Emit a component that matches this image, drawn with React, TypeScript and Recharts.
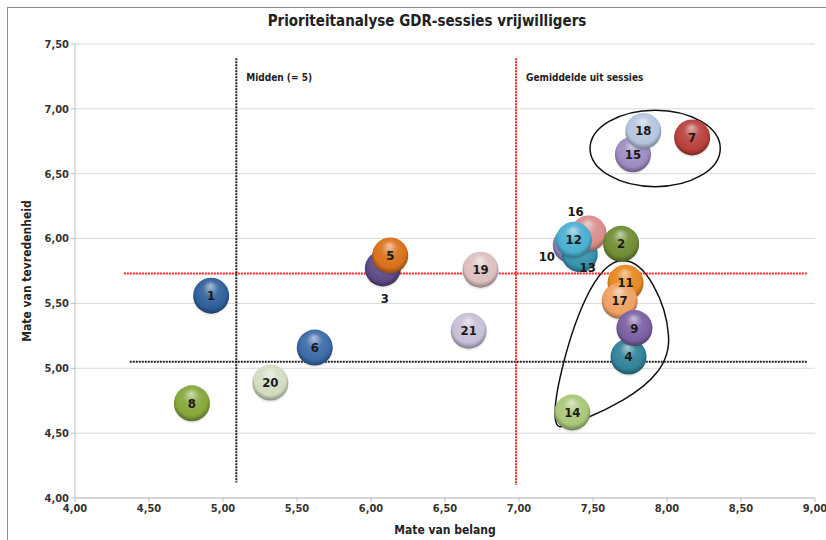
import React from "react";
import { ScatterChart, Scatter, XAxis, YAxis, CartesianGrid, ReferenceLine, ReferenceArea } from "recharts";

// sessies (bubble numbers) with their scores
const sessieIds = [1, 2, 3, 4, 5, 6, 7, 8, 9, 10, 11, 12, 13, 14, 15, 16, 17, 18, 19, 20, 21];
const mateVanBelang = [4.92, 7.69, 6.08, 7.74, 6.13, 5.62, 8.17, 4.79, 7.78, 7.35, 7.72, 7.37, 7.41, 7.36, 7.77, 7.47, 7.68, 7.84, 6.74, 5.32, 6.66];
const mateVanTevredenheid = [5.56, 5.96, 5.77, 5.09, 5.87, 5.16, 6.78, 4.73, 5.31, 5.95, 5.66, 5.99, 5.88, 4.66, 6.65, 6.04, 5.52, 6.83, 5.76, 4.89, 5.29];

const xTicks = [4, 4.5, 5, 5.5, 6, 6.5, 7, 7.5, 8, 8.5, 9];
const yTicks = [4, 4.5, 5, 5.5, 6, 6.5, 7, 7.5];

// reference lines
const middenBelang = 5.09;
const middenTevredenheid = 5.05;
const gemiddeldBelang = 6.98;
const gemiddeldTevredenheid = 5.73;

// stacking order as in the original (later = on top)
const drawOrder = [10, 13, 16, 12, 2, 11, 17, 4, 9, 14, 3, 5, 1, 6, 8, 19, 20, 21, 15, 18, 7];

const bubbleColors: Record<number, string> = {
  1: "#2f5f9c", 2: "#6f8b33", 3: "#5d4a86", 4: "#2f8299", 5: "#d9701a",
  6: "#3a6aa8", 7: "#b8403c", 8: "#86a63a", 9: "#7a5fa3", 10: "#8a82bd",
  11: "#e5871f", 12: "#4aaed0", 13: "#3592ad", 14: "#a8c679", 15: "#9d8cc2",
  16: "#d88c8a", 17: "#eea164", 18: "#b3c5de", 19: "#dcc0c0", 20: "#d3dcc0",
  21: "#c6bfd6",
};

// labels that Excel moved off the bubble
const labelOffsets: Record<number, [number, number]> = {
  3: [2, 30],
  10: [-24, 11],
  13: [8, 13],
  16: [-13, -22],
};

const R = 18;
const FONT = "'DejaVu Sans Condensed', 'DejaVu Sans', sans-serif";

const data = drawOrder.map((id) => {
  const i = sessieIds.indexOf(id);
  return { id, x: mateVanBelang[i], y: mateVanTevredenheid[i] };
});

const mix = (hex: string, target: string, t: number) => {
  const a = parseInt(hex.slice(1), 16);
  const b = parseInt(target.slice(1), 16);
  const ch = (v: number, s: number) => (v >> s) & 255;
  const c = [16, 8, 0].map((s) => Math.round(ch(a, s) + (ch(b, s) - ch(a, s)) * t));
  return "#" + c.map((v) => v.toString(16).padStart(2, "0")).join("");
};

const Bubble = (props: any) => {
  const { cx, cy, payload } = props;
  const base = bubbleColors[payload.id];
  const gid = `bub-${payload.id}`;
  return (
    <g>
      <defs>
        <radialGradient id={gid} cx="50%" cy="45%" r="55%" fx="48%" fy="22%">
          <stop offset="0%" stopColor={mix(base, "#ffffff", 0.6)} />
          <stop offset="40%" stopColor={mix(base, "#ffffff", 0.1)} />
          <stop offset="80%" stopColor={base} />
          <stop offset="100%" stopColor={mix(base, "#000000", 0.35)} />
        </radialGradient>
      </defs>
      <circle cx={cx} cy={cy + 2} r={R} fill="#000" opacity={0.08} />
      <circle cx={cx} cy={cy} r={R} fill={`url(#${gid})`} />
    </g>
  );
};

const BubbleLabel = (props: any) => {
  const { cx, cy, payload } = props;
  const [dx, dy] = labelOffsets[payload.id] || [0, 0];
  return (
    <text x={cx + dx} y={cy + dy} textAnchor="middle" dominantBaseline="central"
      fontFamily={FONT} fontWeight="bold" fontSize={13} fill="#1a1a1a">
      {payload.id}
    </text>
  );
};

const SegLabel = (props: any) => {
  const { viewBox, text } = props;
  return (
    <text x={viewBox.x + 10} y={viewBox.y + 19} fontFamily={FONT} fontWeight="bold" fontSize={10} fill="#222" dominantBaseline="central">
      {text}
    </text>
  );
};

const EllipseShape = (props: any) => {
  const { x, y, width, height } = props;
  return (
    <ellipse cx={x + width / 2} cy={y + height / 2} rx={width / 2} ry={height / 2}
      fill="none" stroke="#111" strokeWidth={1.5} />
  );
};

const LoopShape = (props: any) => {
  const { x, y, width: w, height: h } = props;
  const p = (u: number, v: number) => `${x + u * w},${y + v * h}`;
  const d = `M ${p(0.6, 0)} C ${p(0.8, 0)} ${p(0.98, 0.25)} ${p(1, 0.45)} ` +
    `C ${p(1.02, 0.62)} ${p(0.85, 0.74)} ${p(0.6, 0.84)} ` +
    `C ${p(0.4, 0.92)} ${p(0.15, 0.99)} ${p(0.05, 1)} ` +
    `C ${p(-0.02, 1)} ${p(0, 0.85)} ${p(0.05, 0.7)} ` +
    `C ${p(0.15, 0.4)} ${p(0.35, 0)} ${p(0.6, 0)} Z`;
  return <path d={d} fill="none" stroke="#111" strokeWidth={1.5} />;
};

const fmt = (v: number) => v.toFixed(2).replace(".", ",");

export default function App() {
  return (
    <div style={{ position: "absolute", left: 0, top: 0, width: 826, height: 540, overflow: "hidden", background: "#fff" }}>
      <div style={{ position: "absolute", left: 7, top: 7, width: 840, height: 560, border: "1px solid #8c8c8c" }} />
      <div style={{ position: "absolute", left: 0, width: 854, top: 12, textAlign: "center", fontFamily: FONT, fontWeight: "bold", fontSize: 15, color: "#222" }}>
        Prioriteitanalyse GDR-sessies vrijwilligers
      </div>
      <ScatterChart width={826} height={540} margin={{ top: 44, right: 11, bottom: 0, left: 25 }} style={{ position: "absolute", left: 0, top: 0 }}>
        <CartesianGrid vertical={false} stroke="#d9d9d9" />
        <XAxis type="number" dataKey="x" domain={[4, 9]} ticks={xTicks} tickFormatter={fmt} height={42}
          stroke="#bfbfbf" tickSize={4} tick={{ fill: "#333", fontFamily: FONT, fontWeight: "bold", fontSize: 11 }}
          label={{ value: "Mate van belang", position: "insideBottom", offset: 6, fill: "#222", fontFamily: FONT, fontWeight: "bold", fontSize: 12 }} />
        <YAxis type="number" dataKey="y" domain={[4, 7.5]} ticks={yTicks} tickFormatter={fmt} width={50}
          stroke="#bfbfbf" tickSize={4} tick={{ fill: "#333", fontFamily: FONT, fontWeight: "bold", fontSize: 11 }}
          label={{ value: "Mate van tevredenheid", angle: -90, position: "insideLeft", offset: 2, fill: "#222", fontFamily: FONT, fontWeight: "bold", fontSize: 12, style: { textAnchor: "middle" } }} />
        <ReferenceLine segment={[{ x: 4.33, y: gemiddeldTevredenheid }, { x: 8.95, y: gemiddeldTevredenheid }]}
          stroke="#ff2020" strokeWidth={2} strokeDasharray="2 1" />
        <ReferenceLine segment={[{ x: 4.37, y: middenTevredenheid }, { x: 8.95, y: middenTevredenheid }]}
          stroke="#222" strokeWidth={2} strokeDasharray="2 1" />
        <ReferenceLine segment={[{ x: middenBelang, y: 7.39 }, { x: middenBelang, y: 4.12 }]}
          stroke="#222" strokeWidth={2} strokeDasharray="2 1" label={<SegLabel text="Midden (= 5)" />} />
        <ReferenceLine segment={[{ x: gemiddeldBelang, y: 7.39 }, { x: gemiddeldBelang, y: 4.1 }]}
          stroke="#ff2020" strokeWidth={2} strokeDasharray="2 1" label={<SegLabel text="Gemiddelde uit sessies" />} />
        <Scatter data={data} shape={<Bubble />} isAnimationActive={false} />
        <Scatter data={data} shape={<BubbleLabel />} isAnimationActive={false} />
        <ReferenceArea x1={7.48} x2={8.36} y1={6.4} y2={6.99} shape={<EllipseShape />} />
        <ReferenceArea x1={7.24} x2={8.01} y1={4.55} y2={5.83} shape={<LoopShape />} />
      </ScatterChart>
    </div>
  );
}
